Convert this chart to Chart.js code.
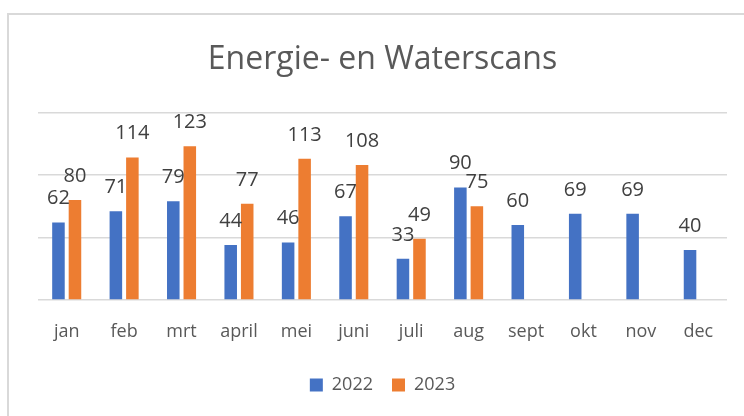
<!DOCTYPE html>
<html>
<head>
<meta charset="utf-8">
<script src="https://cdn.jsdelivr.net/npm/chart.js@4/dist/chart.umd.min.js"></script>
<style>
  html, body { margin: 0; padding: 0; background: #fff; }
  #wrap { position: relative; width: 744px; height: 416px; overflow: hidden; }
  #frame {
    position: absolute; left: 7px; top: 13px; width: 800px; height: 500px;
    border-top: 2px solid #d9d9d9; border-left: 2px solid #d9d9d9;
  }
  #chart { position: absolute; left: 0; top: 0; }
</style>
</head>
<body>
<div id="wrap">
  <div id="frame"></div>
  <canvas id="chart" width="744" height="416"></canvas>
</div>
<script>
const months = ['jan', 'feb', 'mrt', 'april', 'mei', 'juni', 'juli', 'aug', 'sept', 'okt', 'nov', 'dec'];
const scans2022 = [62, 71, 79, 44, 46, 67, 33, 90, 60, 69, 69, 40];
const scans2023 = [80, 114, 123, 77, 113, 108, 49, 75, null, null, null, null];
const yTicks = [0, 50, 100, 150];

const FONT = "'Open Sans', 'DejaVu Sans', sans-serif";

// values written above each bar
const barLabels = {
  id: 'barLabels',
  afterDatasetsDraw(chart) {
    const ctx = chart.ctx;
    ctx.save();
    ctx.font = '20px ' + FONT;
    ctx.fillStyle = '#404040';
    ctx.textAlign = 'center';
    ctx.textBaseline = 'alphabetic';
    chart.data.datasets.forEach((ds, i) => {
      const meta = chart.getDatasetMeta(i);
      meta.data.forEach((bar, j) => {
        const v = ds.data[j];
        if (v === null || v === undefined) return;
        ctx.fillText(String(v), bar.x, bar.y - 18);
      });
    });
    ctx.restore();
  },
};

const config = {
  type: 'bar',
  data: {
    labels: months,
    datasets: [
      {
        label: '2022',
        data: scans2022,
        backgroundColor: '#4472C4',
        categoryPercentage: 0.575,
        barPercentage: 0.76,
      },
      {
        label: '2023',
        data: scans2023,
        backgroundColor: '#ED7D31',
        categoryPercentage: 0.575,
        barPercentage: 0.76,
      },
    ],
  },
  options: {
    responsive: false,
    animation: false,
    layout: {
      padding: { left: 38, right: 17, top: 0, bottom: 12 },
    },
    plugins: {
      title: {
        display: true,
        text: 'Energie- en Waterscans',
        color: '#595959',
        font: { family: FONT, size: 32, weight: 'normal' },
        padding: { top: 41, bottom: 33 },
      },
      legend: {
        position: 'bottom',
        labels: {
          color: '#595959',
          font: { family: FONT, size: 18 },
          boxWidth: 13,
          boxHeight: 13,
          padding: 19,
        },
      },
      tooltip: { enabled: false },
    },
    scales: {
      x: {
        grid: { display: false },
        border: { display: false },
        ticks: {
          color: '#595959',
          font: { family: FONT, size: 18 },
          padding: 13,
          maxRotation: 0,
          autoSkip: false,
        },
        afterFit(scale) {
          scale.height = 57;
        },
      },
      y: {
        min: 0,
        max: 150,
        afterBuildTicks(scale) {
          scale.ticks = yTicks.map((v) => ({ value: v }));
        },
        ticks: { display: false },
        border: { display: false },
        grid: { color: '#d9d9d9', lineWidth: 1.5, drawTicks: false },
        afterFit(scale) {
          scale.width = 0;
        },
      },
    },
  },
  plugins: [barLabels],
};

const canv = document.querySelector('#chart');
const scansChart = new Chart(canv, config);
</script>
</body>
</html>
